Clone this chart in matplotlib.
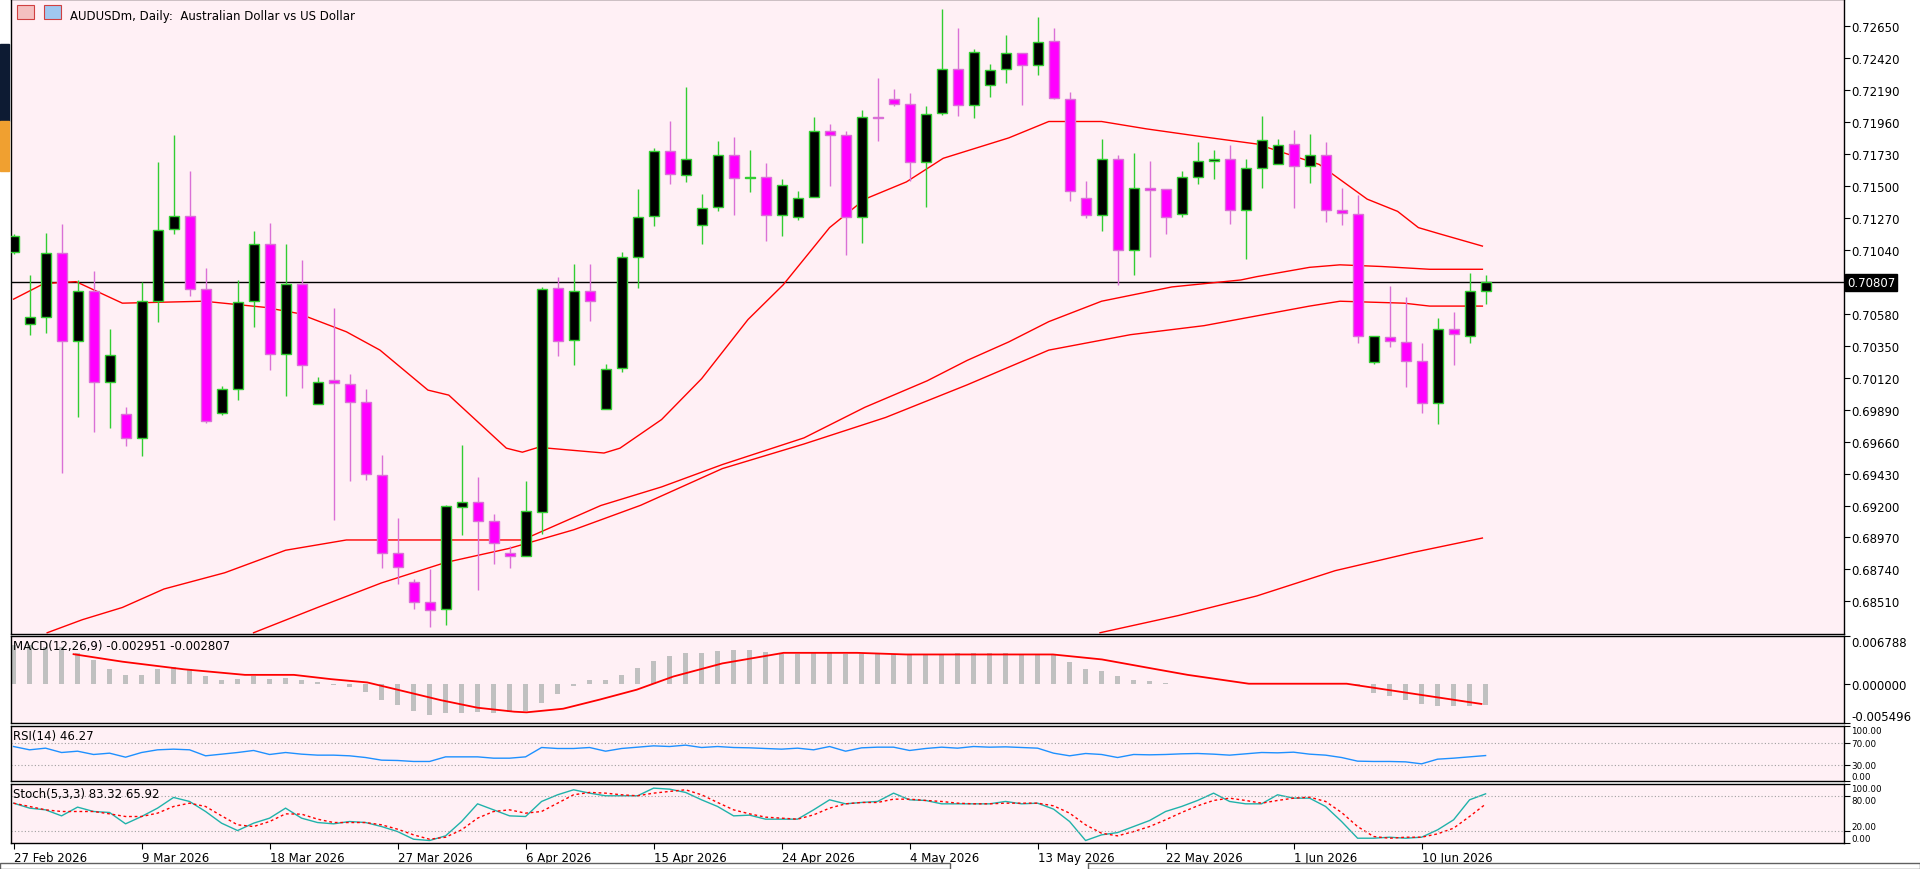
import numpy as np
import matplotlib
matplotlib.use("Agg")
import matplotlib.pyplot as plt
from matplotlib.patches import Rectangle

# ---------------- data ----------------
opens = [0.71024,0.70504,0.70557,0.71015,0.70383,0.70748,0.70086,0.69860,0.69684,0.70671,
         0.71192,0.71286,0.70757,0.69863,0.70042,0.70671,0.71080,0.70289,0.70798,0.69928,
         0.70101,0.70078,0.69942,0.69422,0.68855,0.68646,0.68505,0.68452,0.69193,0.69222,
         0.69087,0.68857,0.68840,0.69157,0.70763,0.70389,0.70748,0.69892,0.70192,0.70986,
         0.71283,0.71750,0.71580,0.71218,0.71348,0.71727,0.71556,0.71568,0.71289,0.71274,
         0.71418,0.71900,0.71865,0.71274,0.72000,0.72124,0.72089,0.71671,0.72024,0.72344,
         0.72083,0.72227,0.72341,0.72456,0.72371,0.72541,0.72130,0.71415,0.71289,0.71698,
         0.71039,0.71489,0.71477,0.71298,0.71562,0.71680,0.71698,0.71327,0.71633,0.71656,
         0.71800,0.71642,0.71727,0.71330,0.71300,0.70230,0.70413,0.70380,0.70239,0.69936,
         0.70468,0.70419,0.70742]
highs = [0.71157,0.70860,0.71162,0.71227,0.70824,0.70889,0.70472,0.69907,0.70813,0.71677,
         0.71868,0.71609,0.70913,0.70060,0.70824,0.71174,0.71233,0.71080,0.70968,0.70128,
         0.70619,0.70145,0.70039,0.69563,0.69113,0.68672,0.68746,0.69207,0.69634,0.69407,
         0.69137,0.68907,0.69375,0.70771,0.70845,0.70942,0.70936,0.70216,0.71024,0.71480,
         0.71774,0.71968,0.72212,0.71442,0.71824,0.71853,0.71759,0.71665,0.71553,0.71465,
         0.71997,0.71950,0.71900,0.72047,0.72277,0.72200,0.72171,0.72074,0.72776,0.72635,
         0.72485,0.72380,0.72588,0.72456,0.72718,0.72638,0.72177,0.71536,0.71836,0.71724,
         0.71736,0.71680,0.71477,0.71612,0.71815,0.71759,0.71795,0.71698,0.72003,0.71839,
         0.71903,0.71874,0.71818,0.71486,0.71433,0.70422,0.70780,0.70701,0.70369,0.70548,
         0.70595,0.70871,0.70857]
lows = [0.71010,0.70430,0.70445,0.69437,0.69839,0.69731,0.69760,0.69631,0.69560,0.70524,
        0.71157,0.70707,0.69795,0.69854,0.69963,0.70489,0.70178,0.69989,0.70048,0.69928,
        0.69099,0.69378,0.69387,0.68752,0.68637,0.68458,0.68328,0.68340,0.68990,0.68593,
        0.68781,0.68752,0.68840,0.68996,0.70277,0.70213,0.70530,0.69892,0.70160,0.70766,
        0.71215,0.71518,0.71533,0.71086,0.71318,0.71295,0.71459,0.71107,0.71142,0.71254,
        0.71418,0.71503,0.71007,0.71092,0.71827,0.72074,0.71539,0.71351,0.72015,0.72006,
        0.71992,0.72141,0.72241,0.72086,0.72300,0.72124,0.71395,0.71271,0.71180,0.70789,
        0.70863,0.70989,0.71157,0.71274,0.71518,0.71548,0.71230,0.70974,0.71489,0.71656,
        0.71339,0.71524,0.71245,0.71221,0.70372,0.70216,0.70339,0.70051,0.69869,0.69784,
        0.70210,0.70369,0.70648]
closes = [0.71142,0.70554,0.71021,0.70383,0.70748,0.70086,0.70286,0.69684,0.70671,0.71186,
          0.71286,0.70757,0.69807,0.70042,0.70666,0.71080,0.70289,0.70798,0.70210,0.70092,
          0.70080,0.69942,0.69425,0.68855,0.68755,0.68505,0.68446,0.69193,0.69228,0.69087,
          0.68931,0.68840,0.69157,0.70757,0.70383,0.70748,0.70671,0.70186,0.70986,0.71280,
          0.71750,0.71586,0.71692,0.71339,0.71727,0.71556,0.71568,0.71289,0.71509,0.71415,
          0.71900,0.71865,0.71274,0.72000,0.71989,0.72089,0.71671,0.72021,0.72344,0.72083,
          0.72462,0.72338,0.72456,0.72371,0.72535,0.72133,0.71465,0.71289,0.71698,0.71039,
          0.71489,0.71474,0.71274,0.71562,0.71677,0.71698,0.71327,0.71627,0.71833,0.71797,
          0.71642,0.71727,0.71330,0.71306,0.70419,0.70422,0.70383,0.70239,0.69936,0.70468,
          0.70436,0.70742,0.70807]
current_price = 0.70807

ma_fast_x = [0,1.9,3.9,6.8,11.9,15.7,17.8,20.8,22.9,25.9,27.2,30.8,31.8,32.8,36.9,37.9,40.5,43.0,45.9,48.1,
             51.0,53.2,55.8,58.1,62.2,64.7,68.0,70.8,74.0,77.7,81.6,84.6,86.5,87.8,89.1,91.8]
ma_fast_y = [0.70686,0.70798,0.70812,0.70657,0.70671,0.70627,0.70583,0.70451,0.70319,0.70031,0.69995,0.69613,
             0.69584,0.69619,0.69578,0.69613,0.69819,0.70113,0.70539,0.70789,0.71201,0.71406,0.71530,0.71700,
             0.71847,0.71965,0.71965,0.71912,0.71860,0.71803,0.71656,0.71406,0.71318,0.71201,0.71157,0.71068]
ma_mid_x = [2.1,4.3,6.8,9.4,13.2,17.0,20.8,24.7,31.8,36.7,40.5,44.3,49.4,53.2,57.1,59.6,62.2,64.7,68.0,72.4,
            76.7,77.7,81.0,82.9,85.5,88.5,91.8]
ma_mid_y = [0.68284,0.68378,0.68466,0.68599,0.68716,0.68878,0.68952,0.68952,0.68952,0.69200,0.69334,0.69495,
            0.69687,0.69907,0.70098,0.70245,0.70378,0.70524,0.70671,0.70774,0.70824,0.70848,0.70915,0.70933,
            0.70921,0.70901,0.70901]
ma_slow_x = [15.0,19.0,23.0,27.0,31.0,35.0,39.2,44.3,49.4,54.5,59.6,64.7,69.8,74.4,81.0,82.9,86.9,88.5,91.8]
ma_slow_y = [0.68284,0.68466,0.68643,0.68790,0.68892,0.69025,0.69202,0.69466,0.69643,0.69834,0.70069,0.70319,
             0.70430,0.70495,0.70636,0.70671,0.70657,0.70636,0.70636]
ma_long_x = [67.9,72.8,77.7,82.6,87.5,91.8]
ma_long_y = [0.68284,0.68408,0.68549,0.68731,0.68863,0.68966]

macd_hist = [5.48,5.48,5.24,5.24,4.32,3.39,2.09,1.30,1.30,2.09,2.46,2.09,1.07,0.60,0.70,1.21,0.70,0.84,0.60,0.23,
             -0.09,-0.42,-1.16,-2.18,-3.02,-3.80,-4.41,-4.04,-4.13,-3.94,-4.04,-3.94,-3.85,-2.64,-1.35,-0.23,0.51,
             0.60,1.30,2.23,3.25,3.94,4.32,4.32,4.69,4.78,4.78,4.55,4.22,4.22,4.41,4.41,4.22,4.22,4.22,4.22,4.22,
             4.22,4.22,4.32,4.32,4.32,4.32,4.22,4.22,4.08,3.16,2.09,1.90,1.16,0.60,0.37,0.14,0.05,0.05,0.05,0.05,
             0.05,0.14,0.14,0.14,0.14,0.05,0.0,-0.32,-1.25,-1.72,-2.27,-2.85,-3.05,-3.05,-3.05,-2.951]
macd_sig_x = [3.75,6.81,10.64,14.46,17.52,19.82,22.11,24.41,26.70,29.00,31.29,32.06,34.35,36.65,38.95,41.24,
              44.30,48.13,52.72,55.78,64.96,68.02,71.08,73.38,77.20,83.32,87.15,91.74]
macd_sig_y = [4.22,3.16,2.09,1.30,1.30,0.70,0.23,-1.02,-2.27,-3.34,-3.90,-3.99,-3.48,-2.18,-0.79,1.07,2.92,
              4.41,4.41,4.18,4.18,3.48,2.23,1.30,0.05,0.05,-1.25,-2.807]

rsi = [62.7,56.7,59.7,51.8,54.2,48.2,50.6,43.3,51.8,56.7,57.9,56.7,45.8,48.8,51.8,55.5,48.2,51.8,48.8,47.0,
       47.0,45.8,42.7,37.9,37.3,35.5,35.5,43.9,43.9,43.9,41.5,41.5,43.9,60.9,59.1,59.1,60.9,54.2,59.1,61.5,
       63.9,62.7,65.2,60.9,62.7,60.9,60.3,59.1,57.9,59.7,56.7,62.7,54.2,60.3,61.5,61.5,55.5,59.1,61.5,59.7,
       62.7,61.5,62.1,60.9,59.7,50.6,45.8,50.0,48.2,42.7,48.2,47.6,48.2,49.4,50.0,48.8,47.0,49.4,51.8,51.2,
       52.4,48.8,47.0,42.7,36.1,35.5,35.5,34.8,31.2,39.7,41.5,43.9,46.27]

stoch_k = [67.5,59.1,56.2,46.0,60.8,53.4,51.7,32.5,44.9,59.1,77.2,70.4,53.4,33.6,21.1,33.6,42.1,59.1,42.1,34.7,
           32.5,36.4,34.7,27.9,19.4,6.4,4.2,12.1,36.4,66.4,56.2,46.0,44.9,70.4,81.7,90.2,84.5,80.0,80.0,80.0,
           93.0,91.3,85.7,73.2,61.9,46.0,47.2,40.4,40.4,40.4,56.2,73.2,66.4,68.7,70.4,84.5,73.2,72.1,66.4,66.4,
           66.4,66.4,70.4,66.4,67.5,57.4,36.4,4.2,13.8,17.7,27.9,38.1,53.4,61.9,72.1,84.5,70.4,66.4,66.4,81.7,
           76.0,76.0,61.9,36.4,8.1,8.1,9.8,8.1,9.8,22.3,39.3,73.2,83.32]
stoch_d = [67.5,61.9,56.2,53.4,53.4,53.4,49.4,44.9,44.9,50.6,61.9,67.5,61.9,46.0,30.8,27.9,36.4,49.4,48.9,40.4,
           34.7,34.7,34.7,30.8,23.4,13.8,6.4,9.8,22.3,42.1,53.4,56.2,50.6,53.4,67.5,81.7,85.7,84.5,81.7,80.0,
           84.5,87.4,90.2,81.7,68.7,56.2,49.4,43.8,42.1,40.4,47.7,59.1,66.4,68.7,68.7,74.3,74.3,72.1,70.4,67.5,
           66.4,66.4,67.5,67.5,67.5,63.0,50.6,30.8,16.6,12.1,19.4,27.9,39.3,51.7,63.0,72.1,76.0,72.1,67.5,72.1,
           76.0,77.7,70.4,51.7,27.9,11.0,8.1,9.8,9.8,15.5,25.1,45.0,65.92]

date_pos = [0, 8, 16, 24, 32, 40, 48, 56, 64, 72, 80, 88]
date_labels = ["27 Feb 2026", "9 Mar 2026", "18 Mar 2026", "27 Mar 2026", "6 Apr 2026", "15 Apr 2026",
               "24 Apr 2026", "4 May 2026", "13 May 2026", "22 May 2026", "1 Jun 2026", "10 Jun 2026"]
price_ticks = [0.72650, 0.72420, 0.72190, 0.71960, 0.71730, 0.71500, 0.71270, 0.71040,
               0.70580, 0.70350, 0.70120, 0.69890, 0.69660, 0.69430, 0.69200, 0.68970, 0.68740, 0.68510]

# ---------------- style ----------------
BG = "#FFF0F5"
BULL_EDGE = "#32CD32"
BEAR_BODY = "#FF00FF"
BEAR_WICK = "#DA70D6"
FS = 8.5
SFS = 6.3
plt.rcParams['font.family'] = ['DejaVu Sans']

W, H = 1920, 870
fig = plt.figure(figsize=(W / 100, H / 100), dpi=100)
fig.patch.set_facecolor("white")

def add_ax(x0, y0, x1, y1):
    ax = fig.add_axes([x0 / W, 1 - y1 / H, (x1 - x0) / W, (y1 - y0) / H])
    ax.set_facecolor(BG)
    for s in ax.spines.values():
        s.set_color("black")
        s.set_linewidth(1.0)
    ax.tick_params(left=False, bottom=False, labelleft=False, labelbottom=False,
                   right=True, labelright=True, direction="out", length=4, width=0.8,
                   labelsize=FS, pad=1)
    return ax

XL = (-0.16, 114.4)
ax = add_ax(11, 0, 1844, 635)
ax_m = add_ax(11, 637, 1844, 724)
ax_r = add_ax(11, 727, 1844, 782)
ax_s = add_ax(11, 785, 1844, 844)
for a in (ax, ax_m, ax_r, ax_s):
    a.set_xlim(*XL)

# left window strip decoration
fig.patches.append(Rectangle((0, 1 - 122 / H), 9 / W, 77 / H, transform=fig.transFigure, color="#0d1b33"))
fig.patches.append(Rectangle((0, 1 - 172 / H), 9 / W, 50 / H, transform=fig.transFigure, color="#f0a030"))

# ---------------- candles ----------------
n = len(opens)
x = np.arange(n)
o = np.array(opens); c = np.array(closes); h = np.array(highs); l = np.array(lows)
bull = c >= o
bw = 0.62
for i in range(n):
    wick_col = BULL_EDGE if bull[i] else BEAR_WICK
    ax.vlines(x[i], l[i], h[i], color=wick_col, lw=1.0, zorder=3)
    lo, hi = min(o[i], c[i]), max(o[i], c[i])
    hgt = max(hi - lo, 0.00006)
    if bull[i]:
        ax.bar(x[i], hgt, bottom=lo, width=bw, color="black", edgecolor=BULL_EDGE, lw=1.0, zorder=4)
    else:
        ax.bar(x[i], hgt, bottom=lo, width=bw, color=BEAR_BODY, edgecolor=BEAR_WICK, lw=1.0, zorder=4)

for mx, my in ((ma_fast_x, ma_fast_y), (ma_mid_x, ma_mid_y), (ma_slow_x, ma_slow_y), (ma_long_x, ma_long_y)):
    ax.plot(mx, my, color="red", lw=1.0, zorder=2)

ax.axhline(current_price, color="black", lw=1.0, zorder=1)
ax.set_ylim(0.68275, 0.72847)
ax.set_yticks(price_ticks)
ax.set_yticklabels([f"{v:.5f}" for v in price_ticks])
ax.text(1.0 + 3 / 1833, current_price, f"{current_price:.5f}", transform=ax.get_yaxis_transform(),
        color="white", fontsize=FS, va="center", ha="left",
        bbox=dict(boxstyle="square,pad=0.15", fc="black", ec="black"))
ax.text(0.032, 0.985, "AUDUSDm, Daily:  Australian Dollar vs US Dollar", transform=ax.transAxes,
        fontsize=FS, va="top", ha="left")
# little title icons
ax.add_patch(Rectangle((0.0033, 0.968), 0.0095, 0.022, transform=ax.transAxes, fc="#f4c0c0", ec="#d04040", lw=0.8))
ax.add_patch(Rectangle((0.018, 0.968), 0.0095, 0.022, transform=ax.transAxes, fc="#a0c8f0", ec="#d04040", lw=0.8))

# ---------------- MACD ----------------
ax_m.bar(x, macd_hist, width=0.35, color="#C0C0C0", zorder=2)
ax_m.plot(macd_sig_x, macd_sig_y, color="red", lw=1.3, zorder=3)
ax_m.set_ylim(-5.496, 6.788)
ax_m.set_yticks([6.788, 0.0, -5.496])
ax_m.set_yticklabels(["0.006788", "0.000000", "-0.005496"])
ax_m.get_yticklabels()[0].set_va("top")
ax_m.get_yticklabels()[2].set_va("bottom")
ax_m.text(0.001, 0.97, "MACD(12,26,9) -0.002951 -0.002807", transform=ax_m.transAxes, fontsize=FS, va="top")

# ---------------- RSI ----------------
ax_r.plot(np.arange(len(rsi)), rsi, color="#1E90FF", lw=1.0)
for lv in (70, 30):
    ax_r.axhline(lv, color="#A0A0A0", lw=0.8, ls=(0, (1, 2)))
ax_r.set_ylim(0, 100)
ax_r.set_yticks([100, 70, 30, 0])
ax_r.set_yticklabels(["100.00", "70.00", "30.00", "0.00"], fontsize=SFS)
ax_r.get_yticklabels()[0].set_va("top")
ax_r.get_yticklabels()[3].set_va("bottom")
ax_r.text(0.001, 0.95, "RSI(14) 46.27", transform=ax_r.transAxes, fontsize=FS, va="top")

# ---------------- Stochastic ----------------
ax_s.plot(np.arange(len(stoch_k)), stoch_k, color="#20B2AA", lw=1.0)
ax_s.plot(np.arange(len(stoch_d)), stoch_d, color="red", lw=1.0, ls=(0, (2, 2)))
for lv in (80, 20):
    ax_s.axhline(lv, color="#A0A0A0", lw=0.8, ls=(0, (1, 2)))
ax_s.set_ylim(0, 100)
ax_s.set_yticks([100, 80, 20, 0])
ax_s.set_yticklabels(["100.00", "80.00", "20.00", "0.00"], fontsize=SFS)
ax_s.get_yticklabels()[0].set_va("top")
ax_s.get_yticklabels()[1].set_va("top")
ax_s.get_yticklabels()[2].set_va("bottom")
ax_s.get_yticklabels()[3].set_va("bottom")
ax_s.text(0.001, 0.95, "Stoch(5,3,3) 83.32 65.92", transform=ax_s.transAxes, fontsize=FS, va="top")

# date axis
ax_s.set_xticks(date_pos)
ax_s.set_xticklabels(date_labels, ha="left")
ax_s.tick_params(axis="x", bottom=True, labelbottom=True, length=4, labelsize=FS, pad=2)

# bottom scrollbar decoration
fig.patches.append(Rectangle((0, 0), 950 / W, 6 / H, transform=fig.transFigure, fc="white", ec="#606060", lw=1))
fig.patches.append(Rectangle((1088 / W, 0), 832 / W, 6 / H, transform=fig.transFigure, fc="white", ec="#606060", lw=1))

fig.savefig("out.png", dpi=100, facecolor=fig.get_facecolor())
